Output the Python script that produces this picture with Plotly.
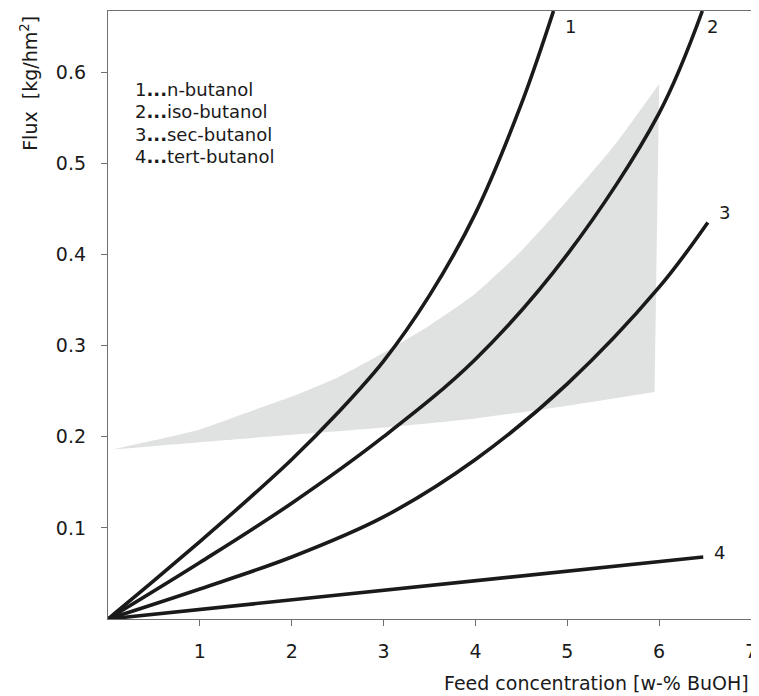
import plotly.graph_objects as go

# ---- data ----
x1 = [0, 0.5, 1, 1.5, 2, 2.5, 3, 3.5, 4, 4.5, 4.85]
y1 = [0, 0.042, 0.085, 0.129, 0.175, 0.226, 0.283, 0.355, 0.445, 0.565, 0.667]

x2 = [0, 1, 2, 3, 4, 5, 6, 6.47]
y2 = [0, 0.062, 0.127, 0.200, 0.285, 0.400, 0.555, 0.667]

x3 = [0, 1, 2, 3, 4, 5, 6, 6.53]
y3 = [0, 0.033, 0.068, 0.112, 0.175, 0.258, 0.364, 0.435]

x4 = [0, 6.48]
y4 = [0, 0.068]

band_upper_x = [0.05, 0.5, 1.0, 1.5, 2.0, 2.5, 3.0, 3.5, 4.0, 4.5, 5.0, 5.5, 6.0]
band_upper_y = [0.186, 0.196, 0.208, 0.226, 0.244, 0.265, 0.292, 0.322, 0.357, 0.404, 0.459, 0.518, 0.587]
band_lower_x = [0.05, 1.0, 2.0, 3.0, 4.0, 5.0, 5.95]
band_lower_y = [0.186, 0.194, 0.202, 0.210, 0.220, 0.234, 0.249]

curve_labels = ["1", "2", "3", "4"]
legend_lines = ["1<b>...</b>n-butanol", "2<b>...</b>iso-butanol",
                "3<b>...</b>sec-butanol", "4<b>...</b>tert-butanol"]

x_ticks = [1, 2, 3, 4, 5, 6, 7]
y_ticks = [0.1, 0.2, 0.3, 0.4, 0.5, 0.6]

FONT = "DejaVu Sans, Liberation Sans, Arial, sans-serif"
INK = "#1a1a1a"
BAND = "#e0e1e1"

fig = go.Figure()

# grey band: lower edge, then upper edge filled down to it
fig.add_trace(go.Scatter(x=band_lower_x, y=band_lower_y, mode="lines",
                         line=dict(width=0, shape="spline", smoothing=0.6, color=BAND),
                         hoverinfo="skip", showlegend=False))
fig.add_trace(go.Scatter(x=band_upper_x, y=band_upper_y, mode="lines",
                         fill="tonexty", fillcolor=BAND,
                         line=dict(width=0, shape="spline", smoothing=0.6, color=BAND),
                         hoverinfo="skip", showlegend=False))

for xs, ys in [(x1, y1), (x2, y2), (x3, y3), (x4, y4)]:
    fig.add_trace(go.Scatter(x=xs, y=ys, mode="lines",
                             line=dict(color=INK, width=3.6, shape="spline"),
                             showlegend=False))

# curve end labels
label_pos = [(x1[-1], y1[-1]), (x2[-1], y2[-1]), (x3[-1], y3[-1]), (x4[-1], y4[-1])]
offsets = [(17, -15), (10, -15), (17, 10), (16, 5)]
for lab, (lx, ly), (dx, dy) in zip(curve_labels, label_pos, offsets):
    fig.add_annotation(x=lx, y=ly, text=lab, showarrow=False,
                       xshift=dx, yshift=dy,
                       font=dict(family=FONT, size=18, color=INK))

# legend text
for i, t in enumerate(legend_lines):
    fig.add_annotation(x=0.27, y=0.581 - i * 0.0245, text=t, showarrow=False,
                       xanchor="left", yanchor="middle",
                       font=dict(family=FONT, size=18, color=INK))

axis_common = dict(showline=True, linecolor="#707070", linewidth=1.3, mirror=True,
                   ticks="outside", ticklen=6, tickcolor="#707070", tickwidth=1.2,
                   showgrid=False, zeroline=False, ticklabeloverflow="allow",
                   tickfont=dict(family=FONT, size=19, color=INK))

fig.update_xaxes(range=[0, 7], tickvals=x_ticks, ticktext=[str(v) for v in x_ticks],
                 ticklabelstandoff=9, **axis_common)
fig.update_yaxes(range=[0, 0.667], tickvals=y_ticks, ticktext=[str(v) for v in y_ticks],
                 ticklabelstandoff=11, **axis_common)

# axis titles
fig.add_annotation(xref="paper", yref="paper", x=1.0, y=-0.105,
                   text="Feed concentration [w-% BuOH]", showarrow=False,
                   xanchor="right", yanchor="middle",
                   font=dict(family=FONT, size=19, color=INK))
fig.add_annotation(xref="paper", yref="paper", x=-0.124, y=0.995,
                   text="Flux  [kg/hm<sup>2</sup>]", showarrow=False, textangle=-90,
                   xanchor="center", yanchor="top",
                   font=dict(family=FONT, size=19, color=INK))

# page body adds an 8px offset, so the figure is 8px smaller
fig.update_layout(width=751, height=688,
                  margin=dict(l=100, r=5, t=2, b=77),
                  plot_bgcolor="white", paper_bgcolor="white")

fig.write_html("out.html")
